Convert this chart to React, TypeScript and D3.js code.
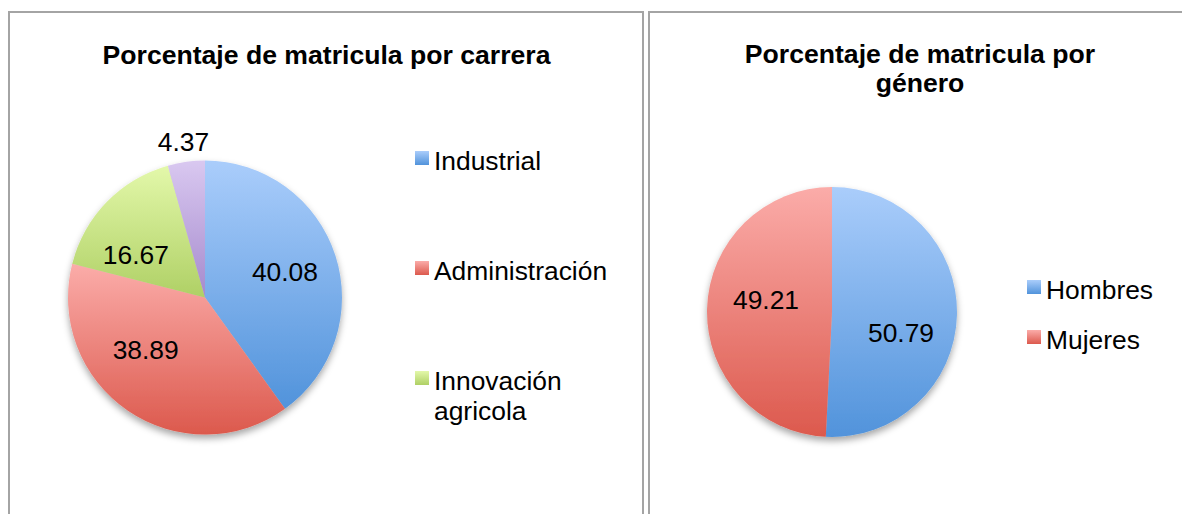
import React from 'react';
import {arc, pie, PieArcDatum} from 'd3';

// carrera chart
const careerNames = ['Industrial', 'Administración', 'Innovación agricola', 'Otra'];
const careerValues = [40.08, 38.89, 16.67, 4.37];
const careerLegendCount = 3;

// genero chart
const genderNames = ['Hombres', 'Mujeres'];
const genderValues = [50.79, 49.21];

const width = 1182;
const height = 514;
const font = '"Liberation Sans", Arial, Helvetica, sans-serif';
const fontSize = 26.4;
const titleSize = 26.6;

const palette = [
  {id: 'blue', top: '#aacdfb', bottom: '#5193db'},
  {id: 'red', top: '#fbaca9', bottom: '#dc594d'},
  {id: 'green', top: '#e3f8aa', bottom: '#afd065'},
  {id: 'purple', top: '#d9c8f0', bottom: '#a58acd'},
];

type Slice = {name: string; value: number; i: number};

// rough text wrap for the legend labels
function wrapLabel(text: string, maxWidth: number) {
  const words = text.split(' ');
  const lines: string[] = [];
  let line = '';
  words.forEach((w) => {
    const next = line ? `${line} ${w}` : w;
    if (line && next.length * fontSize * 0.5 > maxWidth) {
      lines.push(line);
      line = w;
    } else {
      line = next;
    }
  });
  if (line) lines.push(line);
  return lines;
}

type PieProps = {
  names: string[];
  values: number[];
  cx: number;
  cy: number;
  radius: number;
  labelRadius: number;
  nudges: number[][];
  outside?: number[];
};

function PieChart({names, values, cx, cy, radius, labelRadius, nudges, outside = []}: PieProps) {
  const slices: Slice[] = values.map((v, i) => ({name: names[i], value: v, i}));
  const arcs = pie<Slice>().sort(null).value((d) => d.value)(slices);
  const arcGen = arc<PieArcDatum<Slice>>().innerRadius(0).outerRadius(radius);
  const labelArc = arc<PieArcDatum<Slice>>().innerRadius(labelRadius).outerRadius(labelRadius);
  const outerArc = arc<PieArcDatum<Slice>>().innerRadius(radius + 21).outerRadius(radius + 21);

  return (
    <g transform={`translate(${cx}, ${cy})`}>
      <g filter="url(#pieShadow)">
        {arcs.map((a) => (
          <path key={a.data.name} d={arcGen(a) || ''} fill={`url(#grad-${palette[a.data.i].id})`} />
        ))}
      </g>
      {arcs.map((a) => {
        const isOut = outside.includes(a.data.i);
        const [x, y] = isOut ? outerArc.centroid(a) : labelArc.centroid(a);
        const [nx, ny] = nudges[a.data.i] || [0, 0];
        return (
          <text
            key={a.data.name}
            x={x + nx}
            y={y + ny}
            dy="0.36em"
            textAnchor="middle"
            fontFamily={font}
            fontSize={fontSize}
            fill="#000"
          >{a.data.value.toFixed(2)}</text>
        );
      })}
    </g>
  );
}

type LegendProps = {
  names: string[];
  x: number;
  y: number;
  step: number;
  maxWidth: number;
};

function Legend({names, x, y, step, maxWidth}: LegendProps) {
  return (
    <g transform={`translate(${x}, ${y})`}>
      {names.map((name, i) => (
        <g key={name} transform={`translate(0, ${i * step})`}>
          <rect x={0} y={0} width={14} height={14} fill={`url(#grad-${palette[i].id})`} />
          {wrapLabel(name, maxWidth).map((line, j) => (
            <text
              key={line}
              x={19}
              y={19 + j * 30}
              fontFamily={font}
              fontSize={fontSize}
              fill="#000"
            >{line}</text>
          ))}
        </g>
      ))}
    </g>
  );
}

export default function App() {
  return (
    <svg
      width={width}
      height={height}
      style={{position: 'absolute', left: 0, top: 0, background: '#fff'}}
    >
      <defs>
        {palette.map((p) => (
          <linearGradient key={p.id} id={`grad-${p.id}`} x1="0" y1="0" x2="0" y2="1">
            <stop offset="0%" stopColor={p.top} />
            <stop offset="100%" stopColor={p.bottom} />
          </linearGradient>
        ))}
        <filter id="pieShadow" x="-20%" y="-20%" width="140%" height="140%">
          <feDropShadow dx="0" dy="4" stdDeviation="3.5" floodColor="#000" floodOpacity="0.35" />
        </filter>
      </defs>

      <rect x={9} y={12} width={634} height={600} fill="#fff" stroke="#a4a4a4" strokeWidth={2} />
      <rect x={649} y={12} width={560} height={600} fill="#fff" stroke="#a4a4a4" strokeWidth={2} />

      <text x={326.5} y={64} textAnchor="middle" fontFamily={font} fontSize={titleSize} fontWeight="bold">
        Porcentaje de matricula por carrera
      </text>
      <text x={920} y={63} textAnchor="middle" fontFamily={font} fontSize={titleSize} fontWeight="bold">
        <tspan x={920}>Porcentaje de matricula por</tspan>
        <tspan x={920} dy={29}>género</tspan>
      </text>

      <PieChart
        names={careerNames}
        values={careerValues}
        cx={205}
        cy={297.5}
        radius={137}
        labelRadius={84}
        nudges={[[0, 0], [-12, -17], [-9, 16], [0, 0]]}
        outside={[3]}
      />
      <Legend names={careerNames.slice(0, careerLegendCount)} x={415} y={151} step={110} maxWidth={205} />

      <PieChart
        names={genderNames}
        values={genderValues}
        cx={832}
        cy={312}
        radius={125}
        labelRadius={69}
        nudges={[[0, 19], [3, -11]]}
      />
      <Legend names={genderNames} x={1027} y={280} step={50} maxWidth={140} />
    </svg>
  );
}
